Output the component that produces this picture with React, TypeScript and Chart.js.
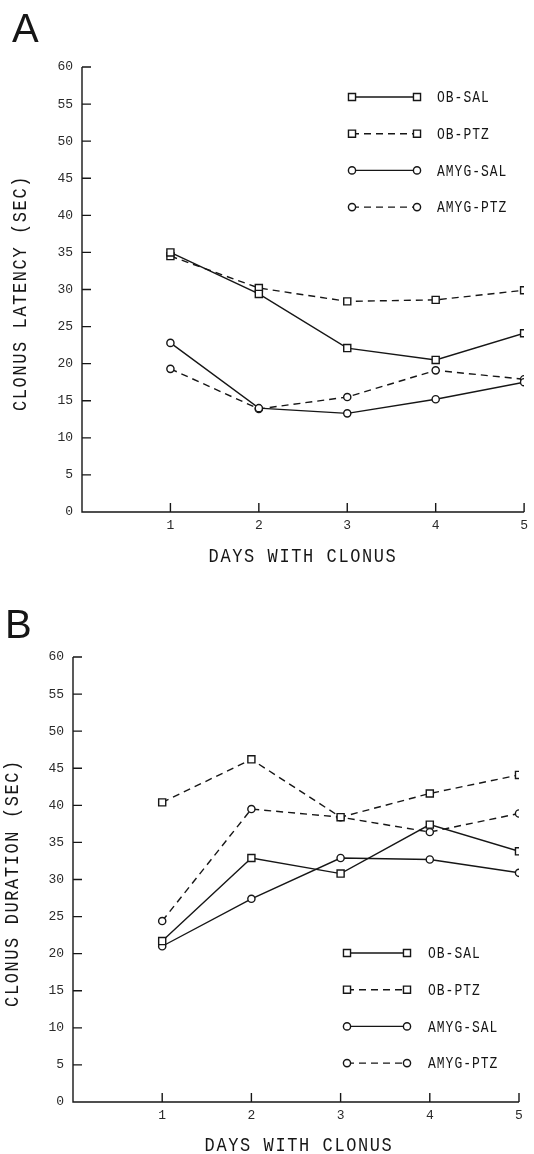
import React, { useEffect, useRef } from 'react';
import { Chart, registerables } from 'chart.js';

Chart.register(...registerables);

// ---------- data ----------
const days = [1, 2, 3, 4, 5];
const seriesNames = ['OB-SAL', 'OB-PTZ', 'AMYG-SAL', 'AMYG-PTZ'];

const latencyObSal = [35.0, 29.4, 22.1, 20.5, 24.1];
const latencyObPtz = [34.5, 30.2, 28.4, 28.6, 29.9];
const latencyAmygSal = [22.8, 14.0, 13.3, 15.2, 17.5];
const latencyAmygPtz = [19.3, 13.9, 15.5, 19.1, 17.9];

const durationObSal = [21.7, 32.9, 30.8, 37.4, 33.8];
const durationObPtz = [40.4, 46.2, 38.4, 41.6, 44.1];
const durationAmygSal = [21.0, 27.4, 32.9, 32.7, 30.9];
const durationAmygPtz = [24.4, 39.5, 38.4, 36.4, 38.9];

const xMin = 0;
const xMax = 5;
const yMin = 0;
const yMax = 60;
const yStep = 5;

// ---------- style ----------
const W = 534;
const H = 577;
const INK = '#161616';
const MONO = '"Liberation Mono", "DejaVu Sans Mono", monospace';
const DASH = [7, 5];

const seriesStyles = [
  { dash: [] as number[], point: 'rect', radius: 5 },
  { dash: DASH, point: 'rect', radius: 5 },
  { dash: [] as number[], point: 'circle', radius: 3.6 },
  { dash: DASH, point: 'circle', radius: 3.6 },
];

function drawMarker(ctx: CanvasRenderingContext2D, style: string, r: number, x: number, y: number) {
  ctx.save();
  ctx.setLineDash([]);
  ctx.fillStyle = '#fff';
  ctx.strokeStyle = INK;
  ctx.lineWidth = 1.4;
  ctx.beginPath();
  if (style === 'rect') {
    const s = Math.SQRT1_2 * r;
    ctx.rect(x - s, y - s, 2 * s, 2 * s);
  } else {
    ctx.arc(x, y, r, 0, Math.PI * 2);
  }
  ctx.fill();
  ctx.stroke();
  ctx.restore();
}

function tallText(ctx: CanvasRenderingContext2D, text: string, x: number, y: number, stretch: number, rotate = false) {
  ctx.save();
  ctx.translate(x, y);
  if (rotate) ctx.rotate(-Math.PI / 2);
  ctx.scale(1, stretch);
  ctx.fillText(text, 0, 0);
  ctx.restore();
}

const decorPlugin = {
  id: 'paperDecor',
  afterDraw(chart: any, _args: any, opts: any) {
    const ctx: CanvasRenderingContext2D = chart.ctx;
    const xs = chart.scales.x;
    const ys = chart.scales.y;
    ctx.save();
    ctx.strokeStyle = INK;
    ctx.lineWidth = 1.4;
    ctx.setLineDash([]);
    const px0 = xs.getPixelForValue(xMin);
    const px1 = xs.getPixelForValue(xMax);
    const py0 = ys.getPixelForValue(yMin);
    const py1 = ys.getPixelForValue(yMax);
    ctx.beginPath();
    ctx.moveTo(px0, py1);
    ctx.lineTo(px0, py0);
    ctx.lineTo(px1, py0);
    ys.ticks.forEach((t: any) => {
      if (t.value === yMin) return;
      const p = ys.getPixelForValue(t.value);
      ctx.moveTo(px0, p);
      ctx.lineTo(px0 + opts.tickLen, p);
    });
    xs.ticks.forEach((t: any) => {
      if (t.value === xMin) return;
      const p = xs.getPixelForValue(t.value);
      ctx.moveTo(p, py0);
      ctx.lineTo(p, py0 - opts.tickLen);
    });
    ctx.stroke();

    // panel letter
    ctx.fillStyle = INK;
    ctx.font = '40px "Liberation Sans", Arial, sans-serif';
    ctx.textAlign = 'left';
    ctx.textBaseline = 'alphabetic';
    tallText(ctx, opts.letter, opts.letterX, opts.letterY, 1.0);

    // axis titles
    (ctx as any).letterSpacing = opts.titleSpacing;
    ctx.font = `17px ${MONO}`;
    ctx.textAlign = 'center';
    ctx.textBaseline = 'middle';
    tallText(ctx, opts.xTitle, opts.xTitleX, opts.xTitleY, 1.2);
    tallText(ctx, opts.yTitle, opts.yTitleX, opts.yTitleY, 1.2, true);

    // legend
    const lg = opts.legend;
    (ctx as any).letterSpacing = '1px';
    ctx.font = `13px ${MONO}`;
    ctx.textAlign = 'left';
    ctx.textBaseline = 'middle';
    chart.data.datasets.forEach((ds: any, i: number) => {
      const y = lg.y0 + i * lg.dy;
      ctx.save();
      ctx.strokeStyle = INK;
      ctx.lineWidth = 1.4;
      ctx.setLineDash(ds.borderDash || []);
      ctx.beginPath();
      ctx.moveTo(lg.x1, y);
      ctx.lineTo(lg.x2, y);
      ctx.stroke();
      ctx.restore();
      drawMarker(ctx, ds.pointStyle, ds.pointRadius, lg.x1, y);
      drawMarker(ctx, ds.pointStyle, ds.pointRadius, lg.x2, y);
      ctx.fillStyle = INK;
      tallText(ctx, ds.label, lg.xText, y + 1, 1.2);
    });
    (ctx as any).letterSpacing = '0px';
    ctx.restore();
  },
};

function makeConfig(series: number[][], p: any): any {
  return {
    type: 'line',
    data: {
      datasets: series.map((vals, i) => ({
        label: seriesNames[i],
        data: days.map((d, j) => ({ x: d, y: vals[j] })),
        borderColor: INK,
        borderWidth: 1.4,
        borderDash: seriesStyles[i].dash,
        pointStyle: seriesStyles[i].point,
        pointRadius: seriesStyles[i].radius,
        pointBackgroundColor: '#fff',
        pointBorderColor: INK,
        pointBorderWidth: 1.4,
        tension: 0,
        fill: false,
      })),
    },
    options: {
      responsive: false,
      animation: false,
      events: [],
      layout: { padding: { top: p.top, right: p.right, left: 0, bottom: p.bottom } },
      plugins: {
        legend: { display: false },
        tooltip: { enabled: false },
        paperDecor: p.decor,
      },
      scales: {
        x: {
          type: 'linear',
          min: xMin,
          max: xMax,
          grid: { display: false, drawTicks: false },
          border: { display: false },
          afterFit: (s: any) => { s.height = 30; },
          ticks: {
            stepSize: 1,
            padding: 6,
            autoSkip: false,
            maxRotation: 0,
            color: '#2a2a2a',
            font: { family: MONO, size: 13 },
            callback: (v: number) => (v === xMin ? '' : String(v)),
          },
        },
        y: {
          type: 'linear',
          min: yMin,
          max: yMax,
          grid: { display: false, drawTicks: false },
          border: { display: false },
          afterFit: (s: any) => { s.width = p.left; },
          ticks: {
            stepSize: yStep,
            padding: 9,
            color: '#2a2a2a',
            font: { family: MONO, size: 13 },
          },
        },
      },
    },
    plugins: [decorPlugin],
  };
}

const configA = () =>
  makeConfig([latencyObSal, latencyObPtz, latencyAmygSal, latencyAmygPtz], {
    top: 67,
    right: 6,
    left: 82,
    bottom: H - 512 - 30,
    decor: {
      tickLen: 9,
      letter: 'A',
      letterX: 12,
      letterY: 42,
      titleSpacing: '1.6px',
      xTitle: 'DAYS WITH CLONUS',
      xTitleX: 303,
      xTitleY: 557,
      yTitle: 'CLONUS LATENCY (SEC)',
      yTitleX: 21,
      yTitleY: 293,
      legend: { x1: 352, x2: 417, xText: 437, y0: 97, dy: 36.7 },
    },
  });

const configB = () =>
  makeConfig([durationObSal, durationObPtz, durationAmygSal, durationAmygPtz], {
    top: 80,
    right: 15,
    left: 73,
    bottom: H - 525 - 30,
    decor: {
      tickLen: 9,
      letter: 'B',
      letterX: 5,
      letterY: 61,
      titleSpacing: '1.6px',
      xTitle: 'DAYS WITH CLONUS',
      xTitleX: 299,
      xTitleY: 569,
      yTitle: 'CLONUS DURATION (SEC)',
      yTitleX: 13,
      yTitleY: 306,
      legend: { x1: 347, x2: 407, xText: 428, y0: 376, dy: 36.7 },
    },
  });

function Panel({ make }: { make: () => any }) {
  const ref = useRef<HTMLCanvasElement>(null);
  useEffect(() => {
    if (!ref.current) return;
    const chart = new Chart(ref.current, make());
    return () => chart.destroy();
  }, [make]);
  return <canvas ref={ref} width={W} height={H} style={{ display: 'block', width: W, height: H }} />;
}

export default function App() {
  return (
    <div style={{ position: 'absolute', left: 0, top: 0, width: W, height: H * 2, background: '#fff' }}>
      <Panel make={configA} />
      <Panel make={configB} />
    </div>
  );
}
